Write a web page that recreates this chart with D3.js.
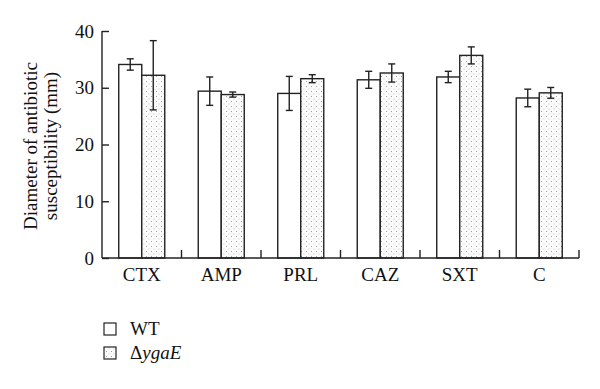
<!DOCTYPE html>
<html><head><meta charset="utf-8">
<script src="https://cdn.jsdelivr.net/npm/d3@7"></script>
<style>body{margin:0;background:#fff}svg{display:block}text{font-family:"Liberation Serif","DejaVu Serif",serif;fill:#111}</style>
</head><body>
<svg id="c" width="600" height="389"></svg>
<script>
const categories = ["CTX","AMP","PRL","CAZ","SXT","C"];
const series = ["WT","mutant"];
const wtValues  = [34.1, 29.4, 29.0, 31.4, 31.9, 28.2];
const wtErrors  = [1.0, 2.5, 3.0, 1.5, 1.0, 1.55];
const mutValues = [32.2, 28.8, 31.6, 32.6, 35.7, 29.1];
const mutErrors = [6.1, 0.45, 0.7, 1.6, 1.5, 0.95];
const yTicks = [0,10,20,30,40];

(function(){
const svg = d3.select("#c");
const defs = svg.append("defs");
const pat = defs.append("pattern").attr("id","dots").attr("patternUnits","userSpaceOnUse")
  .attr("width",5).attr("height",5);
pat.append("rect").attr("width",5).attr("height",5).attr("fill","#fcfcfc");
pat.append("rect").attr("x",1).attr("y",1).attr("width",1).attr("height",1).attr("fill","#a0a0a0");
pat.append("rect").attr("x",3.5).attr("y",3.5).attr("width",1).attr("height",1).attr("fill","#c4c4c4");

const pLeft = 102, pRight = 579, pTop = 31, pBottom = 258;
const x = d3.scaleBand().domain(categories).range([pLeft,pRight]).padding(0);
const xs = d3.scaleBand().domain(series).range([0,x.bandwidth()]).paddingInner(0).paddingOuter(0.728);
const y = d3.scaleLinear().domain([0,40]).range([pBottom,pTop]);

const data = [];
categories.forEach((c,i)=>{
  data.push({c, s:"WT", v:wtValues[i], e:wtErrors[i]});
  data.push({c, s:"mutant", v:mutValues[i], e:mutErrors[i]});
});

const g = svg.append("g");
g.selectAll("rect.bar").data(data).enter().append("rect").attr("class","bar")
  .attr("x",d=>x(d.c)+xs(d.s)).attr("width",xs.bandwidth())
  .attr("y",d=>y(d.v)).attr("height",d=>y(0)-y(d.v))
  .attr("fill",d=>d.s==="WT"?"#fff":"url(#dots)")
  .attr("stroke","#222").attr("stroke-width",1.4);

const eb = g.selectAll("g.err").data(data).enter().append("g")
  .attr("transform",d=>`translate(${x(d.c)+xs(d.s)+xs.bandwidth()/2},0)`)
  .attr("stroke","#222").attr("stroke-width",1.4);
eb.append("line").attr("y1",d=>y(d.v+d.e)).attr("y2",d=>y(d.v-d.e));
eb.append("line").attr("x1",-3.5).attr("x2",3.5).attr("y1",d=>y(d.v+d.e)).attr("y2",d=>y(d.v+d.e));
eb.append("line").attr("x1",-3.5).attr("x2",3.5).attr("y1",d=>y(d.v-d.e)).attr("y2",d=>y(d.v-d.e));

// y axis
const ya = svg.append("g").attr("transform",`translate(${pLeft},0)`)
  .call(d3.axisRight(y).tickValues(yTicks).tickSize(7).tickFormat(""));
ya.select(".domain").attr("d",`M0,${pTop}V${pBottom}`);
ya.selectAll("path,line").attr("stroke","#222").attr("stroke-width",1.4);
svg.append("g").selectAll("text").data(yTicks).enter().append("text")
  .attr("x",pLeft-8).attr("y",d=>y(d)).attr("dy","0.35em").attr("text-anchor","end")
  .attr("font-size",19).text(d=>d);

// x axis
const xa = svg.append("g").attr("transform",`translate(0,${pBottom})`);
xa.append("line").attr("x1",pLeft).attr("x2",pRight).attr("stroke","#222").attr("stroke-width",1.4);
xa.selectAll("line.tk").data(categories).enter().append("line").attr("class","tk")
  .attr("x1",d=>x(d)+x.bandwidth()).attr("x2",d=>x(d)+x.bandwidth())
  .attr("y1",0).attr("y2",-8).attr("stroke","#222").attr("stroke-width",1.4);
xa.selectAll("text").data(categories).enter().append("text")
  .attr("x",d=>x(d)+x.bandwidth()/2).attr("y",23).attr("text-anchor","middle")
  .attr("font-size",19).text(d=>d);

// y title
const yt = svg.append("text").attr("transform",`translate(37,146) rotate(-90)`)
  .attr("text-anchor","middle").attr("font-size",19);
yt.append("tspan").attr("x",0).attr("dy",0).text("Diameter of antibiotic");
yt.append("tspan").attr("x",0).attr("dy",20).text("susceptibility (mm)");

// legend
const lg = svg.append("g");
const legendItems = [{s:"WT", y:323},{s:"mutant", y:347}];
lg.selectAll("rect").data(legendItems).enter().append("rect")
  .attr("x",104).attr("y",d=>d.y).attr("width",12).attr("height",12)
  .attr("fill",d=>d.s==="WT"?"#fff":"url(#dots)").attr("stroke","#222").attr("stroke-width",1.2);
lg.append("text").attr("x",130).attr("y",335).attr("font-size",19).text("WT");
const mt = lg.append("text").attr("x",130).attr("y",359).attr("font-size",19);
mt.append("tspan").text("Δ");
mt.append("tspan").attr("font-style","italic").text("ygaE");
})();
</script>
</body></html>
